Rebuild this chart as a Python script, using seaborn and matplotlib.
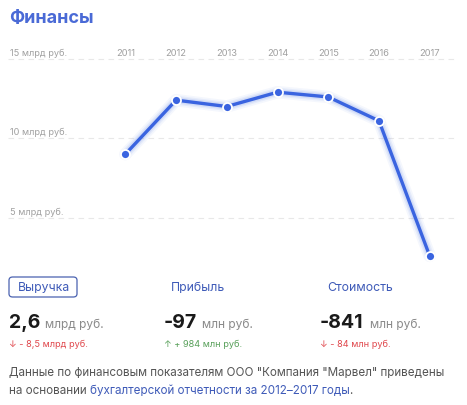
import matplotlib
matplotlib.use("Agg")
import matplotlib.pyplot as plt
import seaborn as sns
import pandas as pd
from matplotlib.patches import FancyBboxPatch

years = [2011, 2012, 2013, 2014, 2015, 2016, 2017]
revenue = [9.0, 12.4, 12.0, 12.9, 12.6, 11.1, 2.6]
grid_levels = [5, 10, 15]
grid_labels = ["5 млрд руб.", "10 млрд руб.", "15 млрд руб."]

card_titles = ["Выручка", "Прибыль", "Стоимость"]
card_values = ["2,6", "-97", "-841"]
card_units = ["млрд руб.", "млн руб.", "млн руб."]
card_changes = ["↓ - 8,5 млрд руб.", "↑ + 984 млн руб.", "↓ - 84 млн руб."]
card_up = [False, True, False]

footer_1 = "Данные по финансовым показателям ООО \"Компания \"Марвел\" приведены"
footer_2a = "на основании "
footer_2b = "бухгалтерской отчетности за 2012–2017 годы"
footer_2c = "."

df = pd.DataFrame({"year": years, "revenue": revenue})

sns.set_theme(style="white")
plt.rcParams["font.family"] = ["Inter", "DejaVu Sans"]

W, H = 467, 406
fig = plt.figure(figsize=(W / 100, H / 100), dpi=100)


def fx(x):
    return x / W


def fy(y):
    return 1 - y / H


BLUE = "#3a64e0"
GRAY = "#8a8a8a"

# axes placed in pixel space: x 8..455, y 45..270
ax = fig.add_axes([fx(8), fy(270), fx(455 - 8), (270 - 45) / H])
ppu = 15.9
y_top = 10 + (139.3 - 45) / ppu
y_bot = 10 - (270 - 139.3) / ppu
ax.set_ylim(y_bot, y_top)
ax.set_xlim(2011 - 117.3 / 50.73, 2017 + 25.3 / 50.73)
ax.axis("off")

for lv, lab in zip(grid_levels, grid_labels):
    ax.axhline(lv, color="#e8e8e8", lw=0.8, ls=(0, (5, 4)), zorder=0)
    ax.text(2011 - 115 / 50.73, lv + 0.12, lab, fontsize=6.6, color="#a0a0a0",
            ha="left", va="bottom")

for yr in years:
    ax.text(yr, 15.12, str(yr), fontsize=6.7, color="#a0a0a0", ha="center", va="bottom")

# glow
for lw, a in [(9, 0.05), (6.5, 0.08), (4.5, 0.11)]:
    sns.lineplot(data=df, x="year", y="revenue", ax=ax, color=BLUE, lw=lw, alpha=a,
                 legend=False, zorder=2)
sns.lineplot(data=df, x="year", y="revenue", ax=ax, color=BLUE, lw=2.4, zorder=3,
             legend=False)
sns.scatterplot(data=df, x="year", y="revenue", ax=ax, color=BLUE, s=42,
                edgecolor="white", linewidth=1.3, zorder=4, legend=False)
ax.axis("off")

# title
fig.text(fx(9), fy(19), "Финансы", fontsize=13, fontweight="bold", color="#4a6ad6",
         ha="left", va="center")

# cards
card_x = [10, 171, 327]
value_end = [41, 198, 366]
box = FancyBboxPatch((fx(9), fy(298)), fx(68), (298 - 278) / H,
                     boxstyle="round,pad=0,rounding_size=0.008",
                     transform=fig.transFigure, fc="white", ec="#4a62b0", lw=0.9)
fig.patches.append(box)
for i in range(3):
    tx = card_x[i] + (8 if i == 0 else 0)
    fig.text(fx(tx), fy(288), card_titles[i], fontsize=8.8, color="#3f5bb8",
             ha="left", va="center")
    fig.text(fx(card_x[i] - (1 if i == 0 else 7)), fy(323), card_values[i], fontsize=14,
             fontweight="bold", color="#1a1a1a", ha="left", va="center")
    fig.text(fx(value_end[i] + 4), fy(325), card_units[i], fontsize=8.6, color=GRAY,
             ha="left", va="center")
    fig.text(fx(card_x[i] - (1 if i == 0 else 7)), fy(344), card_changes[i], fontsize=6.6,
             color="#58a05a" if card_up[i] else "#e0474c", ha="left", va="center")

# footer
fs = 8.4
fig.text(fx(9), fy(373), footer_1, fontsize=fs, color="#555555", ha="left", va="center")
t1 = fig.text(fx(9), fy(391), footer_2a, fontsize=fs, color="#555555", ha="left",
              va="center")
r = fig.canvas.get_renderer()
bb = t1.get_window_extent(renderer=r)
t2 = fig.text(bb.x1 / W, fy(391), footer_2b, fontsize=fs, color="#3f5bb8", ha="left",
              va="center")
bb2 = t2.get_window_extent(renderer=r)
fig.text(bb2.x1 / W, fy(391), footer_2c, fontsize=fs, color="#555555", ha="left",
         va="center")

fig.savefig("out.png", dpi=100)
